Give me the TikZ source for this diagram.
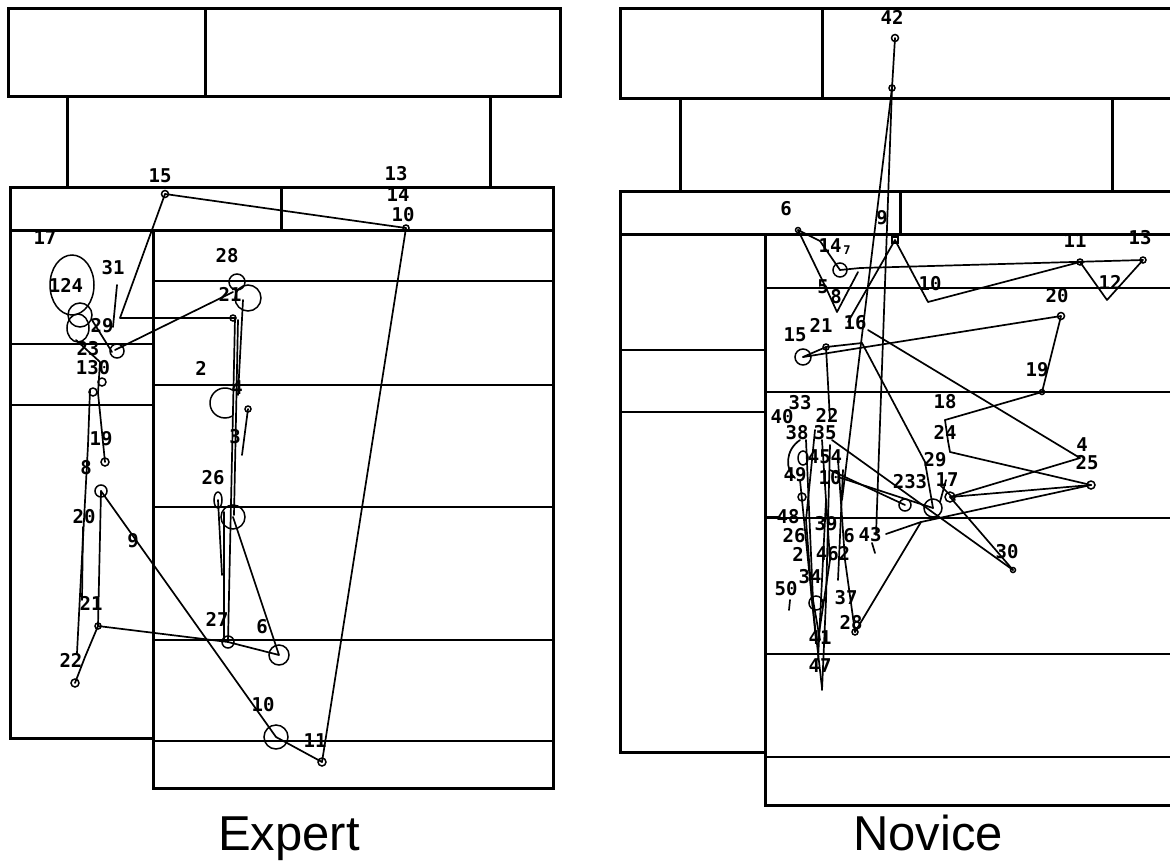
\documentclass[tikz,border=0pt]{standalone}
\usepackage{fontspec}
\setmainfont{Liberation Sans}
\newfontfamily\fixfont{DejaVu Sans Mono}
\begin{document}
\begin{tikzpicture}[x=1pt,y=-1pt,
  frame/.style={line width=3pt},
  rule/.style={line width=2.6pt},
  scan/.style={line width=1.7pt, line join=round, line cap=round},
  fixc/.style={line width=1.5pt},
  lab/.style={font=\fixfont\bfseries\fontsize{19}{19}\selectfont, inner sep=0pt},
  sublab/.style={font=\fixfont\bfseries\fontsize{12}{12}\selectfont, inner sep=0pt},
  caption/.style={font=\fontsize{49}{49}\selectfont, inner sep=0pt, anchor=base west}]
\useasboundingbox (0,0) rectangle (1170,863);
\fill[white] (0,0) rectangle (1170,863);

% ================= Expert: display layout =================
\draw[frame] (8,8) rectangle (560,96);
\draw[frame] (205,8) -- (205,96);
\draw[frame] (67,96) -- (67,187);
\draw[frame] (490,96) -- (490,187);
\draw[frame] (10,187) rectangle (553,230);
\draw[frame] (281,187) -- (281,230);
\draw[frame] (10,230) -- (10,738) -- (153,738);
\draw[rule] (10,344) -- (153,344);
\draw[rule] (10,405) -- (153,405);
\draw[frame] (153,230) rectangle (553,788);
\foreach \yy in {281,385,507,640,741} \draw[rule] (153,\yy) -- (553,\yy);

% ================= Novice: display layout =================
\draw[frame] (1172,8) -- (620,8) -- (620,98) -- (1172,98);
\draw[frame] (822,8) -- (822,98);
\draw[frame] (680,98) -- (680,191);
\draw[frame] (1112,98) -- (1112,191);
\draw[frame] (1172,191) -- (620,191) -- (620,234) -- (1172,234);
\draw[frame] (900,191) -- (900,234);
\draw[frame] (620,234) -- (620,752) -- (765,752);
\draw[rule] (620,350) -- (765,350);
\draw[rule] (620,412) -- (765,412);
\draw[frame] (765,234) -- (765,805) -- (1172,805);
\foreach \yy in {288,392,518,654,757} \draw[rule] (765,\yy) -- (1172,\yy);

% ================= Expert: fixation points =================
\coordinate (e15) at (165,194);
\coordinate (e12) at (406,228);
\coordinate (e11) at (322,762);
\coordinate (e10) at (276,737);
\coordinate (e8) at (101,491);
\coordinate (e16) at (120,318);
\coordinate (e16b) at (235,318);
\coordinate (eA) at (115,350);
\coordinate (e21r) at (233,292);
\coordinate (e31t) at (117,285);
\coordinate (e31b) at (113,327);
\coordinate (e27) at (228,642);
\coordinate (e6) at (279,655);
\coordinate (e5) at (233,517);
\coordinate (e21) at (98,626);
\coordinate (e21m) at (85,657);
\coordinate (e22) at (75,683);
\coordinate (eL1) at (90,390);
\coordinate (eL2) at (88,445);
\coordinate (eL3) at (80,595);
\coordinate (eL4) at (77,653);
\coordinate (eR1) at (98,393);
\coordinate (e19) at (105,462);
\coordinate (e3t) at (248,409);
\coordinate (e3b) at (242,455);
\coordinate (e26) at (218,500);
\coordinate (e26b) at (222,575);
\coordinate (eV1) at (238,320);
\coordinate (eV2) at (234,515);
\coordinate (eV3) at (243,300);
\coordinate (eV4) at (238,395);
\coordinate (eP1) at (224,512);
\coordinate (eP2) at (224,640);
\coordinate (e20t) at (83,527);
\coordinate (e20b) at (82,600);
\coordinate (eK1) at (92,320);
\coordinate (eK2) at (112,352);
\coordinate (eK3) at (76,340);
\coordinate (eK4) at (100,362);

% ================= Expert: scanpath =================
\draw[scan] (e15) -- (e12) -- (e11) -- (e10) -- (e8);
\draw[scan] (e15) -- (e16) -- (e16b) -- (e27);
\draw[scan] (eA) -- (e21r);
\draw[scan] (e31t) -- (e31b);
\draw[scan] (eV1) -- (eV2);
\draw[scan] (eV3) -- (eV4);
\draw[scan] (eP1) -- (eP2);
\draw[scan] (e26) -- (e26b);
\draw[scan] (e3t) -- (e3b);
\draw[scan] (e27) -- (e6) -- (e5);
\draw[scan] (e21) -- (e27);
\draw[scan] (e21) -- (e21m) -- (e22);
\draw[scan] (eL1) -- (eL2) -- (eL3) -- (eL4);
\draw[scan] (eR1) -- (e19);
\draw[scan] (e8) -- (e21);
\draw[scan] (e20t) -- (e20b);
\draw[scan] (eK1) -- (eK2);
\draw[scan] (eK3) -- (eK4) -- (eR1);

% ================= Expert: fixation marks =================
\draw[fixc] (e15) circle[radius=3.5pt];
\draw[fixc] (e12) circle[radius=3pt];
\draw[fixc] (e11) circle[radius=4pt];
\draw[fixc] (e10) circle[radius=12pt];
\draw[fixc] (e6) circle[radius=10pt];
\draw[fixc] (e27) circle[radius=6pt];
\draw[fixc] (e5) circle[radius=12pt];
\draw[fixc] (e26) ellipse[x radius=4pt, y radius=8pt];
\draw[fixc] (225,403) ++(60:15pt) arc[start angle=60, end angle=300, radius=15pt];
\draw[fixc] (e3t) circle[radius=3pt];
\draw[fixc] (237,282) circle[radius=8pt];
\draw[fixc] (248,298) circle[radius=13pt];
\draw[fixc] (233,318) circle[radius=3pt];
\draw[fixc] (72,285) ellipse[x radius=22pt, y radius=30pt];
\draw[fixc] (80,315) circle[radius=12pt];
\draw[fixc] (78,328) ellipse[x radius=11pt, y radius=14pt];
\draw[fixc] (117,351) circle[radius=7pt];
\draw[fixc] (102,382) circle[radius=4pt];
\draw[fixc] (93,392) circle[radius=4pt];
\draw[fixc] (e19) circle[radius=4pt];
\draw[fixc] (e8) circle[radius=6pt];
\draw[fixc] (e21) circle[radius=3pt];
\draw[fixc] (e22) circle[radius=4pt];

% ================= Expert: fixation numbers =================
\node[lab] (xl15) at (160,176) {15};
\node[lab] (xl13) at (396,174) {13};
\node[lab] (xl14) at (398,195) {14};
\node[lab] (xl10a) at (403,215) {10};
\node[lab] (xl17) at (45,238) {17};
\node[lab] (xl24) at (66,285) {124};
\node[lab] (xl31) at (113,268) {31};
\node[lab] (xl29) at (102,326) {29};
\node[lab] (xl23) at (88,349) {23};
\node[lab] (xl130) at (93,368) {130};
\node[lab] (xl28) at (227,256) {28};
\node[lab] (xl21a) at (230,294) {21};
\node[lab] (xl2) at (201,368) {2};
\node[lab] (xl4) at (237,388) {4};
\node[lab] (xl3) at (235,437) {3};
\node[lab] (xl19) at (101,439) {19};
\node[lab] (xl8) at (86,468) {8};
\node[lab] (xl20) at (84,517) {20};
\node[lab] (xl9) at (133,541) {9};
\node[lab] (xl26) at (213,478) {26};
\node[lab] (xl21) at (91,603) {21};
\node[lab] (xl22) at (71,660) {22};
\node[lab] (xl27) at (217,619) {27};
\node[lab] (xl6) at (262,627) {6};
\node[lab] (xl10) at (263,705) {10};
\node[lab] (xl11) at (315,741) {11};

% ================= Novice: fixation points =================
\coordinate (n42) at (895,38);
\coordinate (n42b) at (892,88);
\coordinate (n43e) at (876,535);
\coordinate (nC1) at (842,500);
\coordinate (n6) at (798,230);
\coordinate (n14) at (820,241);
\coordinate (n7) at (840,270);
\coordinate (n7r) at (860,268);
\coordinate (n8) at (827,290);
\coordinate (n8b) at (837,312);
\coordinate (n8c) at (858,272);
\coordinate (n8d) at (848,322);
\coordinate (n9R) at (895,240);
\coordinate (n10) at (928,302);
\coordinate (n11) at (1080,262);
\coordinate (n12) at (1107,300);
\coordinate (n13) at (1143,260);
\coordinate (n15) at (803,357);
\coordinate (n21) at (826,347);
\coordinate (n16) at (862,343);
\coordinate (n20) at (1061,316);
\coordinate (n19) at (1042,392);
\coordinate (n18) at (945,420);
\coordinate (n24) at (948,441);
\coordinate (n29) at (950,452);
\coordinate (n25) at (1091,485);
\coordinate (n4) at (1080,458);
\coordinate (n16r) at (868,330);
\coordinate (n29e) at (925,462);
\coordinate (n23) at (905,505);
\coordinate (n17) at (933,508);
\coordinate (n17b) at (950,497);
\coordinate (nX) at (921,522);
\coordinate (n43) at (886,534);
\coordinate (n43t) at (872,543);
\coordinate (n43b) at (875,553);
\coordinate (n28) at (855,632);
\coordinate (n30) at (1013,570);
\coordinate (n35) at (832,440);
\coordinate (nC2) at (830,470);
\coordinate (nC3) at (838,477);
\coordinate (n22) at (830,420);

% ================= Novice: scanpath =================
\draw[scan] (n42) -- (n42b);
\draw[scan] (n42b) -- (n43e);
\draw[scan] (n42b) -- (nC1);
\draw[scan] (n6) -- (n14) -- (n7);
\draw[scan] (n6) -- (n8) -- (n8b) -- (n8c);
\draw[scan] (n8d) -- (n9R) -- (n10) -- (n11) -- (n12) -- (n13) -- (n7r) -- (n7);
\draw[scan] (n15) -- (n20) -- (n19) -- (n18);
\draw[scan] (n15) -- (n21) -- (n16);
\draw[scan] (n21) -- (n22);
\draw[scan] (n18) -- (n24) -- (n29) -- (n25);
\draw[scan] (n16r) -- (n4) -- (n17b);
\draw[scan] (n16) -- (n29e) -- (n17);
\draw[scan] (n25) -- (n17b) -- (n30);
\draw[scan] (n25) -- (nX) -- (n28);
\draw[scan] (nX) -- (n43);
\draw[scan] (n43t) -- (n43b);
\draw[scan] (n35) -- (n30);
\draw[scan] (nC2) -- (n23);
\draw[scan] (nC3) -- (n17);
\draw[scan] (940,485) -- (955,500);
\draw[scan] (946,480) -- (940,502);

% dense cluster of short fixations on the left
\coordinate (k1) at (806,440); \coordinate (k2) at (813,600); \coordinate (k3) at (820,640);
\coordinate (k4) at (815,430); \coordinate (k5) at (806,520); \coordinate (k6) at (812,600); \coordinate (k7) at (822,688);
\coordinate (k8) at (822,440); \coordinate (k9) at (830,560); \coordinate (k10) at (818,640);
\coordinate (k11) at (830,445); \coordinate (k12) at (826,600); \coordinate (k13) at (822,690);
\coordinate (k14) at (838,460); \coordinate (k15) at (845,560);
\coordinate (k16) at (843,470); \coordinate (k17) at (838,580);
\coordinate (k18) at (800,480); \coordinate (k19) at (808,560); \coordinate (k20) at (816,640);
\coordinate (k21) at (826,500); \coordinate (k22) at (818,660);
\draw[scan] (k1) -- (k2) -- (k3);
\draw[scan] (k4) -- (k5) -- (k6) -- (k7);
\draw[scan] (k8) -- (k9) -- (k10);
\draw[scan] (k11) -- (k12) -- (k13);
\draw[scan] (k14) -- (k15) -- (n28);
\draw[scan] (k16) -- (k17);
\draw[scan] (k18) -- (k19) -- (k20);
\draw[scan] (k21) -- (k22);
\draw[scan] (800,440) .. controls (785,450) and (785,470) .. (795,478);
\draw[scan] (765,517) -- (780,517);
\draw[scan] (790,600) -- (789,610);

% ================= Novice: fixation marks =================
\draw[fixc] (n42) circle[radius=3.5pt];
\draw[fixc] (n42b) circle[radius=3pt];
\draw[fixc] (n6) circle[radius=2.5pt];
\draw[fixc] (n7) circle[radius=7pt];
\draw[fixc] (n9R) ++(-3pt,-3pt) rectangle ++(6pt,6pt);
\draw[fixc] (n11) circle[radius=3pt];
\draw[fixc] (n13) circle[radius=3pt];
\draw[fixc] (n15) circle[radius=8pt];
\draw[fixc] (n21) circle[radius=3pt];
\draw[fixc] (n20) circle[radius=3.5pt];
\draw[fixc] (n19) circle[radius=2.5pt];
\draw[fixc] (n25) circle[radius=4pt];
\draw[fixc] (n23) circle[radius=6pt];
\draw[fixc] (n17) circle[radius=9pt];
\draw[fixc] (n17b) circle[radius=5pt];
\draw[fixc] (n30) circle[radius=2.5pt];
\draw[fixc] (803,458) ellipse[x radius=5pt, y radius=7pt];
\draw[fixc] (802,497) circle[radius=4pt];
\draw[fixc] (816,603) circle[radius=7pt];
\draw[fixc] (n28) circle[radius=3pt];

% ================= Novice: fixation numbers =================
\node[lab] (vl42) at (892,17) {42};
\node[lab] (vl6) at (786,209) {6};
\node[lab] (vl14) at (830,246) {14};
\node[sublab] (vl7) at (847,250) {7};
\node[lab] (vl9) at (882,218) {9};
\node[lab] (vl11) at (1075,241) {11};
\node[lab] (vl13) at (1140,238) {13};
\node[lab] (vl12) at (1110,282) {12};
\node[lab] (vl10) at (930,284) {10};
\node[lab] (vl20) at (1057,296) {20};
\node[lab] (vl5) at (823,287) {5};
\node[lab] (vl8) at (836,297) {8};
\node[lab] (vl15) at (795,335) {15};
\node[lab] (vl21) at (821,325) {21};
\node[lab] (vl16) at (855,323) {16};
\node[lab] (vl19) at (1037,370) {19};
\node[lab] (vl18) at (945,402) {18};
\node[lab] (vl24) at (945,432) {24};
\node[lab] (vl4) at (1082,445) {4};
\node[lab] (vl25) at (1087,463) {25};
\node[lab] (vl29) at (935,460) {29};
\node[lab] (vl233) at (910,482) {233};
\node[lab] (vl17) at (947,480) {17};
\node[lab] (vl30) at (1007,552) {30};
\node[lab] (vl33) at (800,403) {33};
\node[lab] (vl40) at (782,417) {40};
\node[lab] (vl22) at (827,415) {22};
\node[lab] (vl38) at (797,433) {38};
\node[lab] (vl35) at (825,433) {35};
\node[lab] (vl454) at (825,457) {454};
\node[lab] (vl49) at (795,475) {49};
\node[lab] (vl10b) at (830,478) {10};
\node[lab] (vl48) at (788,517) {48};
\node[lab] (vl39) at (826,524) {39};
\node[lab] (vl26) at (794,536) {26};
\node[lab] (vl6b) at (849,536) {6};
\node[lab] (vl43) at (870,535) {43};
\node[lab] (vl2) at (798,554) {2};
\node[lab] (vl462) at (833,554) {462};
\node[lab] (vl34) at (810,577) {34};
\node[lab] (vl50) at (786,589) {50};
\node[lab] (vl37) at (846,598) {37};
\node[lab] (vl28) at (851,623) {28};
\node[lab] (vl41) at (820,638) {41};
\node[lab] (vl47) at (820,666) {47};

% ================= Panel captions =================
\node[caption] (capE) at (218,850) {Expert};
\node[caption] (capN) at (853,850) {Novice};
\end{tikzpicture}
\end{document}
